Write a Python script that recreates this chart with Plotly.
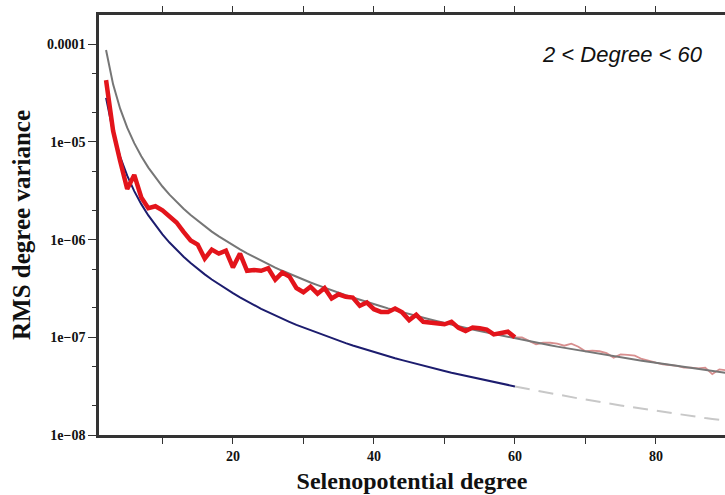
import plotly.graph_objects as go

# ---------------- data ----------------
degrees_main = list(range(2, 61))      # 2..60
degrees_ext = list(range(60, 91))      # 60..90
degrees_all = list(range(2, 91))       # 2..90

red_main = [4.3e-5, 1.3e-5, 6.4e-6, 3.3e-6, 4.6e-6, 2.7e-6, 2.1e-6, 2.2e-6, 2.0e-6,
            1.75e-6, 1.5e-6, 1.2e-6, 9.8e-7, 8.9e-7, 6.4e-7, 7.9e-7, 7.2e-7, 7.7e-7,
            5.2e-7, 7.2e-7, 4.8e-7, 4.9e-7, 4.8e-7, 5.1e-7, 3.9e-7, 4.6e-7, 4.2e-7,
            3.2e-7, 2.9e-7, 3.3e-7, 2.8e-7, 3.2e-7, 2.5e-7, 2.76e-7, 2.6e-7, 2.55e-7,
            2.1e-7, 2.27e-7, 1.94e-7, 1.82e-7, 1.82e-7, 1.97e-7, 1.8e-7, 1.5e-7,
            1.7e-7, 1.44e-7, 1.42e-7, 1.4e-7, 1.36e-7, 1.44e-7, 1.25e-7, 1.16e-7,
            1.26e-7, 1.24e-7, 1.2e-7, 1.07e-7, 1.1e-7, 1.14e-7, 1.0e-7]

red_ext = [1.0e-7, 1.0e-7, 9.2e-8, 8.5e-8, 8.8e-8, 8.8e-8, 8.6e-8, 8.2e-8, 8.6e-8,
           8.0e-8, 7.2e-8, 7.3e-8, 7.2e-8, 6.9e-8, 6.2e-8, 6.7e-8, 6.6e-8, 6.5e-8,
           6.0e-8, 5.7e-8, 5.5e-8, 5.3e-8, 5.2e-8, 5.1e-8, 4.9e-8, 4.9e-8, 4.8e-8,
           4.9e-8, 4.2e-8, 4.7e-8, 4.6e-8]

gray_all = [8.75e-5, 3.89e-5, 2.19e-5, 1.40e-5, 9.72e-6, 7.14e-6, 5.47e-6, 4.32e-6,
            3.50e-6, 2.89e-6, 2.43e-6, 2.07e-6, 1.79e-6, 1.56e-6, 1.37e-6, 1.21e-6,
            1.08e-6, 9.70e-7, 8.75e-7, 7.94e-7, 7.23e-7, 6.62e-7, 6.08e-7, 5.60e-7,
            5.18e-7, 4.80e-7, 4.46e-7, 4.16e-7, 3.89e-7, 3.64e-7, 3.42e-7, 3.21e-7,
            3.03e-7, 2.86e-7, 2.70e-7, 2.56e-7, 2.42e-7, 2.30e-7, 2.19e-7, 2.08e-7,
            1.98e-7, 1.89e-7, 1.81e-7, 1.73e-7, 1.65e-7, 1.58e-7, 1.52e-7, 1.46e-7,
            1.40e-7, 1.35e-7, 1.29e-7, 1.25e-7, 1.20e-7, 1.16e-7, 1.12e-7, 1.08e-7,
            1.04e-7, 1.01e-7, 9.72e-8, 9.41e-8, 9.11e-8, 8.82e-8, 8.54e-8, 8.28e-8,
            8.03e-8, 7.80e-8, 7.57e-8, 7.35e-8, 7.14e-8, 6.94e-8, 6.75e-8, 6.57e-8,
            6.39e-8, 6.22e-8, 6.06e-8, 5.90e-8, 5.75e-8, 5.61e-8, 5.47e-8, 5.33e-8,
            5.21e-8, 5.08e-8, 4.96e-8, 4.84e-8, 4.73e-8, 4.62e-8, 4.52e-8, 4.42e-8,
            4.32e-8]

blue_main = [2.83e-5, 1.26e-5, 7.06e-6, 4.52e-6, 3.14e-6, 2.31e-6, 1.77e-6, 1.40e-6,
             1.13e-6, 9.34e-7, 7.85e-7, 6.69e-7, 5.77e-7, 5.02e-7, 4.41e-7, 3.91e-7,
             3.49e-7, 3.13e-7, 2.83e-7, 2.56e-7, 2.33e-7, 2.14e-7, 1.96e-7, 1.81e-7,
             1.67e-7, 1.55e-7, 1.44e-7, 1.34e-7, 1.26e-7, 1.18e-7, 1.10e-7, 1.04e-7,
             9.78e-8, 9.22e-8, 8.72e-8, 8.25e-8, 7.83e-8, 7.43e-8, 7.06e-8, 6.72e-8,
             6.41e-8, 6.11e-8, 5.84e-8, 5.58e-8, 5.34e-8, 5.12e-8, 4.90e-8, 4.71e-8,
             4.52e-8, 4.34e-8, 4.18e-8, 4.02e-8, 3.88e-8, 3.74e-8, 3.60e-8, 3.48e-8,
             3.36e-8, 3.25e-8, 3.14e-8]

blue_ext = [3.14e-8, 3.04e-8, 2.94e-8, 2.85e-8, 2.76e-8, 2.67e-8, 2.59e-8, 2.52e-8,
            2.44e-8, 2.37e-8, 2.31e-8, 2.24e-8, 2.18e-8, 2.12e-8, 2.06e-8, 2.01e-8,
            1.96e-8, 1.91e-8, 1.86e-8, 1.81e-8, 1.77e-8, 1.72e-8, 1.68e-8, 1.64e-8,
            1.60e-8, 1.56e-8, 1.53e-8, 1.49e-8, 1.46e-8, 1.43e-8, 1.40e-8]

x_tickvals = [10, 20, 30, 40, 50, 60, 70, 80, 90]
x_ticktext = ["", "20", "", "40", "", "60", "", "80", ""]
y_tickvals = [1e-4, 1e-5, 1e-6, 1e-7, 1e-8]
y_ticktext = ["0.0001", "1e\u221205", "1e\u221206", "1e\u221207", "1e\u221208"]
y_minorvals = [5e-5, 2e-5, 5e-6, 2e-6, 5e-7, 2e-7, 5e-8, 2e-8]
annotation_text = "2 < Degree < 60"

# ---------------- figure ----------------
fig = go.Figure()
fig.add_trace(go.Scatter(x=degrees_ext, y=blue_ext, mode="lines",
                         line=dict(color="#c8c8c8", width=2, dash="15px,9px")))
fig.add_trace(go.Scatter(x=degrees_main, y=blue_main, mode="lines",
                         line=dict(color="#1c1c6e", width=2)))
fig.add_trace(go.Scatter(x=degrees_ext, y=red_ext, mode="lines",
                         line=dict(color="rgba(200,95,95,0.7)", width=1.8)))
fig.add_trace(go.Scatter(x=degrees_all, y=gray_all, mode="lines",
                         line=dict(color="#767676", width=2)))
fig.add_trace(go.Scatter(x=degrees_main, y=red_main, mode="lines",
                         line=dict(color="#e3141b", width=4.5)))

serif = "Liberation Serif"
fig.update_layout(
    width=725, height=495,
    margin=dict(l=99, r=0, t=15, b=60),
    paper_bgcolor="white", plot_bgcolor="white",
    showlegend=False,
    font=dict(family=serif, color="#111"),
    xaxis=dict(
        range=[1, 89.8], tickvals=x_tickvals, ticktext=x_ticktext,
        ticks="outside", ticklen=6, tickwidth=1, tickcolor="#333",
        showline=True, linewidth=2.5, linecolor="#333", mirror="ticks",
        showgrid=False, zeroline=False,
        tickfont=dict(family=serif, size=14, weight="bold", color="#111"),
        title=dict(text="Selenopotential degree",
                   font=dict(family=serif, size=24, weight="bold", color="#111"),
                   standoff=10),
    ),
    yaxis=dict(
        type="log", range=[-8, -3.70],
        tickvals=y_tickvals, ticktext=y_ticktext,
        ticks="outside", ticklen=8, tickwidth=1, tickcolor="#333",
        minor=dict(tickvals=y_minorvals, ticks="outside", ticklen=4,
                   tickcolor="#333", tickwidth=1, showgrid=False),
        showline=True, linewidth=2.5, linecolor="#333", mirror=False,
        showgrid=False, zeroline=False,
        tickfont=dict(family=serif, size=14, weight="bold", color="#111"),
        title=dict(text="RMS degree variance",
                   font=dict(family=serif, size=25, weight="bold", color="#111"),
                   standoff=10),
    ),
    annotations=[dict(x=0.837, y=0.905, xref="paper", yref="paper",
                      xanchor="center", yanchor="middle",
                      text=annotation_text, showarrow=False,
                      font=dict(family="Liberation Sans", size=22,
                                style="italic", color="#111"))],
)

fig.write_html(
    "out.html",
    config={"displayModeBar": False},
    post_script="document.body.style.margin='0';"
                "document.documentElement.style.overflow='hidden';"
                "document.body.style.overflow='hidden';",
)
